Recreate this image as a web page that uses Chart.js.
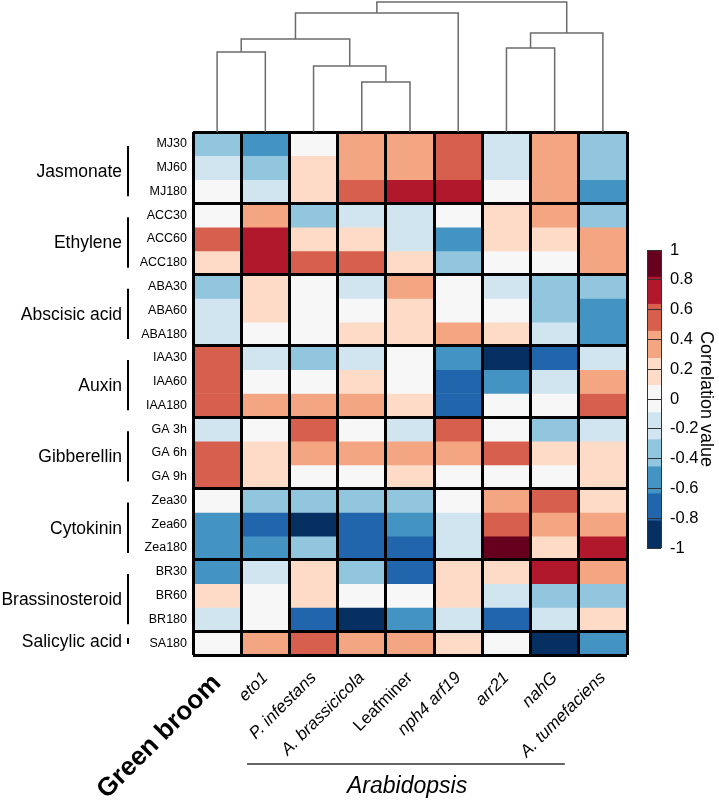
<!DOCTYPE html>
<html>
<head>
<meta charset="utf-8">
<script src="https://cdn.jsdelivr.net/npm/chart.js@4.4.1/dist/chart.umd.min.js"></script>
<style>
  body { margin: 0; background: #fff; }
  #wrap { position: relative; width: 719px; height: 801px; overflow: hidden; }
  canvas { position: absolute; left: 0; top: 0; }
</style>
</head>
<body>
<div id="wrap">
  <canvas id="heat" width="719" height="801"></canvas>
  <canvas id="dendro" width="719" height="132"></canvas>
  <canvas id="scale" width="719" height="801"></canvas>
</div>
<script>
// columns (left to right) and their label style
const columns = ['Green broom', 'eto1', 'P. infestans', 'A. brassicicola', 'Leafminer', 'nph4 arf19', 'arr21', 'nahG', 'A. tumefaciens'];
const italicColumns = [false, true, true, true, false, true, true, true, true];

// rows (top to bottom) and hormone groups
const rows = ['MJ30', 'MJ60', 'MJ180', 'ACC30', 'ACC60', 'ACC180', 'ABA30', 'ABA60', 'ABA180',
  'IAA30', 'IAA60', 'IAA180', 'GA 3h', 'GA 6h', 'GA 9h', 'Zea30', 'Zea60', 'Zea180',
  'BR30', 'BR60', 'BR180', 'SA180'];
const groups = ['Jasmonate', 'Ethylene', 'Abscisic acid', 'Auxin', 'Gibberellin', 'Cytokinin', 'Brassinosteroid', 'Salicylic acid'];
const groupSizes = [3, 3, 3, 3, 3, 3, 3, 1];

// correlation values, one array per column, in row order
const greenBroom = [-0.35, -0.18, 0.02, 0.01, 0.55, 0.2, -0.34, -0.2, -0.19, 0.56, 0.55, 0.54, -0.17, 0.55, 0.56, 0.0, -0.56, -0.57, -0.53, 0.19, -0.16, 0.03];
const eto1 = [-0.58, -0.38, -0.2, 0.39, 0.7, 0.72, 0.2, 0.17, 0.04, -0.18, 0.02, 0.36, 0.03, 0.19, 0.18, -0.38, -0.72, -0.55, -0.17, 0.01, 0.0, 0.38];
const pInfestans = [0.05, 0.2, 0.21, -0.36, 0.17, 0.54, 0.02, 0.0, 0.01, -0.35, 0.03, 0.38, 0.55, 0.37, 0.04, -0.37, -0.88, -0.33, 0.19, 0.2, -0.73, 0.57];
const aBrassicicola = [0.37, 0.38, 0.53, -0.17, 0.18, 0.55, -0.19, 0.03, 0.15, -0.16, 0.17, 0.38, 0.02, 0.36, 0.05, -0.37, -0.74, -0.71, -0.36, 0.02, -0.86, 0.4];
const leafminer = [0.36, 0.38, 0.72, -0.16, -0.18, 0.17, 0.37, 0.2, 0.18, 0.01, 0.03, 0.16, -0.18, 0.37, 0.2, -0.35, -0.56, -0.73, -0.7, 0.01, -0.55, 0.36];
const nph4arf19 = [0.56, 0.53, 0.74, 0.04, -0.58, -0.35, 0.02, 0.05, 0.38, -0.56, -0.7, -0.72, 0.55, 0.38, 0.03, 0.04, -0.17, -0.19, 0.2, 0.18, -0.18, 0.2];
const arr21 = [-0.19, -0.18, 0.02, 0.18, 0.2, 0.01, -0.17, 0.03, 0.18, -0.9, -0.55, 0.03, 0.02, 0.54, 0.04, 0.38, 0.56, 0.88, 0.17, -0.19, -0.72, 0.0];
const nahG = [0.38, 0.37, 0.36, 0.38, 0.19, 0.03, -0.36, -0.35, -0.18, -0.72, -0.18, 0.02, -0.35, 0.19, 0.04, 0.55, 0.38, 0.18, 0.7, -0.35, -0.17, -0.9];
const aTumefaciens = [-0.36, -0.37, -0.57, -0.35, 0.38, 0.37, -0.36, -0.56, -0.55, -0.18, 0.37, 0.55, -0.17, 0.2, 0.19, 0.18, 0.37, 0.72, 0.38, -0.35, 0.19, -0.56];
const series = [greenBroom, eto1, pInfestans, aBrassicicola, leafminer, nph4arf19, arr21, nahG, aTumefaciens];

// column dendrogram: [child a, child b, height]; leaves are 0-8, new clusters get 9, 10, ...
const dendroMerges = [
  [3, 4, 0.385],
  [2, 9, 0.508],
  [0, 1, 0.615],
  [6, 7, 0.646],
  [11, 10, 0.715],
  [12, 8, 0.762],
  [13, 5, 0.915],
  [15, 14, 1.0]
];

// colour scale: 11 classes between -1 and 1
const colorbarColors = ['#053061', '#2166ac', '#4393c3', '#92c5de', '#d1e5f0', '#f7f7f7', '#fddbc7', '#f4a582', '#d6604d', '#b2182b', '#67001f'];
const colorbarEdges = [-1, -0.818, -0.636, -0.455, -0.273, -0.091, 0.091, 0.273, 0.455, 0.636, 0.818, 1];

Chart.defaults.font.family = '"Liberation Sans", Arial, Helvetica, sans-serif';
Chart.defaults.color = '#000';

function colorFor(v) {
  for (let i = 0; i < colorbarColors.length; i++) {
    if (v < colorbarEdges[i + 1]) return colorbarColors[i];
  }
  return colorbarColors[colorbarColors.length - 1];
}

const groupStarts = [];
groupSizes.reduce((s, n) => { groupStarts.push(s); return s + n; }, 0);
const isGroupEdge = i => i === undefined || groupStarts.includes(i);

// group labels, brackets and the Arabidopsis bar
const decor = {
  id: 'decor',
  afterDraw(chart) {
    const { ctx, chartArea, scales: { x, y } } = chart;
    ctx.save();
    ctx.strokeStyle = '#000';
    ctx.fillStyle = '#000';
    ctx.lineWidth = 2;
    ctx.font = '17.5px "Liberation Sans", Arial, sans-serif';
    ctx.textAlign = 'right';
    ctx.textBaseline = 'middle';
    let start = 0;
    groups.forEach((g, i) => {
      const n = groupSizes[i];
      const top = y.getPixelForValue(start);
      const bottom = y.getPixelForValue(start + n);
      const mid = (top + bottom) / 2;
      let b0 = top + 14, b1 = bottom - 7;
      if (n === 1) { b0 = mid - 5; b1 = mid + 1; }
      ctx.beginPath();
      ctx.moveTo(chartArea.left - 65, b0);
      ctx.lineTo(chartArea.left - 65, b1);
      ctx.stroke();
      ctx.fillText(g, chartArea.left - 71, (b0 + b1) / 2 + 1);
      start += n;
    });

    ctx.strokeStyle = '#333';
    ctx.lineWidth = 1.5;
    ctx.beginPath();
    ctx.moveTo(x.getPixelForValue(0.62), chartArea.bottom + 109);
    ctx.lineTo(x.getPixelForValue(7.21), chartArea.bottom + 109);
    ctx.stroke();
    ctx.font = 'italic 23px "Liberation Sans", Arial, sans-serif';
    ctx.textAlign = 'center';
    ctx.textBaseline = 'alphabetic';
    ctx.fillText('Arabidopsis', x.getPixelForValue(3.94), chartArea.bottom + 138);
    ctx.restore();
  }
};

// heatmap: one floating-bar dataset per row
const heatDatasets = rows.map((r, ri) => ({
  data: columns.map(() => [ri, ri + 1]),
  backgroundColor: series.map(col => colorFor(col[ri])),
  borderWidth: 0
}));

new Chart(document.getElementById('heat'), {
  type: 'bar',
  data: { labels: columns, datasets: heatDatasets },
  options: {
    responsive: false,
    animation: false,
    layout: { padding: { left: 0, right: 92, top: 132, bottom: 0 } },
    plugins: { legend: { display: false }, tooltip: { enabled: false } },
    datasets: { bar: { barPercentage: 1, categoryPercentage: 1, grouped: false, borderSkipped: false } },
    scales: {
      x: {
        type: 'category',
        offset: true,
        grid: { offset: true, color: '#000', lineWidth: 3, drawTicks: false, z: 1 },
        border: { display: false },
        ticks: {
          autoSkip: false,
          minRotation: 45,
          maxRotation: 45,
          padding: 13,
          color: '#000',
          font: c => c.index === 0 ? { size: 26, weight: 'bold' }
            : { size: 17, style: italicColumns[c.index] ? 'italic' : 'normal' }
        },
        afterFit: s => { s.height = 146; }
      },
      y: {
        type: 'linear',
        min: 0,
        max: rows.length,
        reverse: true,
        grid: {
          offset: true,
          drawTicks: false,
          z: 1,
          color: c => isGroupEdge(c.index) ? '#000' : 'rgba(0,0,0,0)',
          lineWidth: c => isGroupEdge(c.index) ? 3 : 0
        },
        border: { display: false },
        ticks: {
          autoSkip: false,
          padding: 6,
          color: '#000',
          font: { size: 12.5 },
          callback: (v, i) => rows[i]
        },
        afterBuildTicks: s => { s.ticks = rows.map((_, i) => ({ value: i + 0.5 })); },
        afterFit: s => { s.width = 193; }
      }
    }
  },
  plugins: [decor]
});

// dendrogram above the columns
const nodeX = columns.map((_, i) => i);
const nodeH = columns.map(() => 0);
const dendroDatasets = dendroMerges.map(([a, b, h]) => {
  const ds = {
    data: [
      { x: nodeX[a], y: nodeH[a] }, { x: nodeX[a], y: h },
      { x: nodeX[b], y: h }, { x: nodeX[b], y: nodeH[b] }
    ],
    borderColor: '#6b6b6b',
    backgroundColor: '#6b6b6b',
    borderWidth: 1.5
  };
  nodeX.push((nodeX[a] + nodeX[b]) / 2);
  nodeH.push(h);
  return ds;
});

new Chart(document.getElementById('dendro'), {
  type: 'scatter',
  data: { datasets: dendroDatasets },
  options: {
    responsive: false,
    animation: false,
    layout: { padding: { left: 193, right: 92, top: 2, bottom: 0 } },
    plugins: { legend: { display: false }, tooltip: { enabled: false } },
    datasets: { scatter: { showLine: true, pointRadius: 0, clip: false } },
    scales: {
      x: { type: 'linear', min: -0.5, max: columns.length - 0.5, display: false },
      y: { type: 'linear', min: 0, max: 1, display: false }
    }
  }
});

// colour bar
new Chart(document.getElementById('scale'), {
  type: 'bar',
  data: {
    labels: [''],
    datasets: colorbarColors.map((c, i) => ({
      data: [[colorbarEdges[i], colorbarEdges[i + 1]]],
      backgroundColor: c,
      borderWidth: 0
    }))
  },
  options: {
    responsive: false,
    animation: false,
    layout: { padding: { left: 647, right: 0, top: 250, bottom: 253 } },
    plugins: { legend: { display: false }, tooltip: { enabled: false } },
    datasets: { bar: { barPercentage: 1, categoryPercentage: 1, grouped: false } },
    scales: {
      x: {
        type: 'category',
        offset: true,
        ticks: { display: false },
        grid: { offset: true, drawTicks: false, color: '#333', lineWidth: 1, z: 1 },
        border: { display: false }
      },
      y: {
        type: 'linear',
        position: 'right',
        min: -1,
        max: 1,
        ticks: {
          stepSize: 0.2,
          padding: 9,
          color: '#000',
          font: { size: 16.5 },
          callback: v => String(Math.round(v * 10) / 10)
        },
        grid: { color: '#333', lineWidth: 1, drawTicks: false, z: 1 },
        border: { display: false },
        title: { display: true, text: 'Correlation value', color: '#000', font: { size: 18 }, padding: 2 },
        afterFit: s => { s.width = 58; }
      }
    }
  }
});
</script>
</body>
</html>
